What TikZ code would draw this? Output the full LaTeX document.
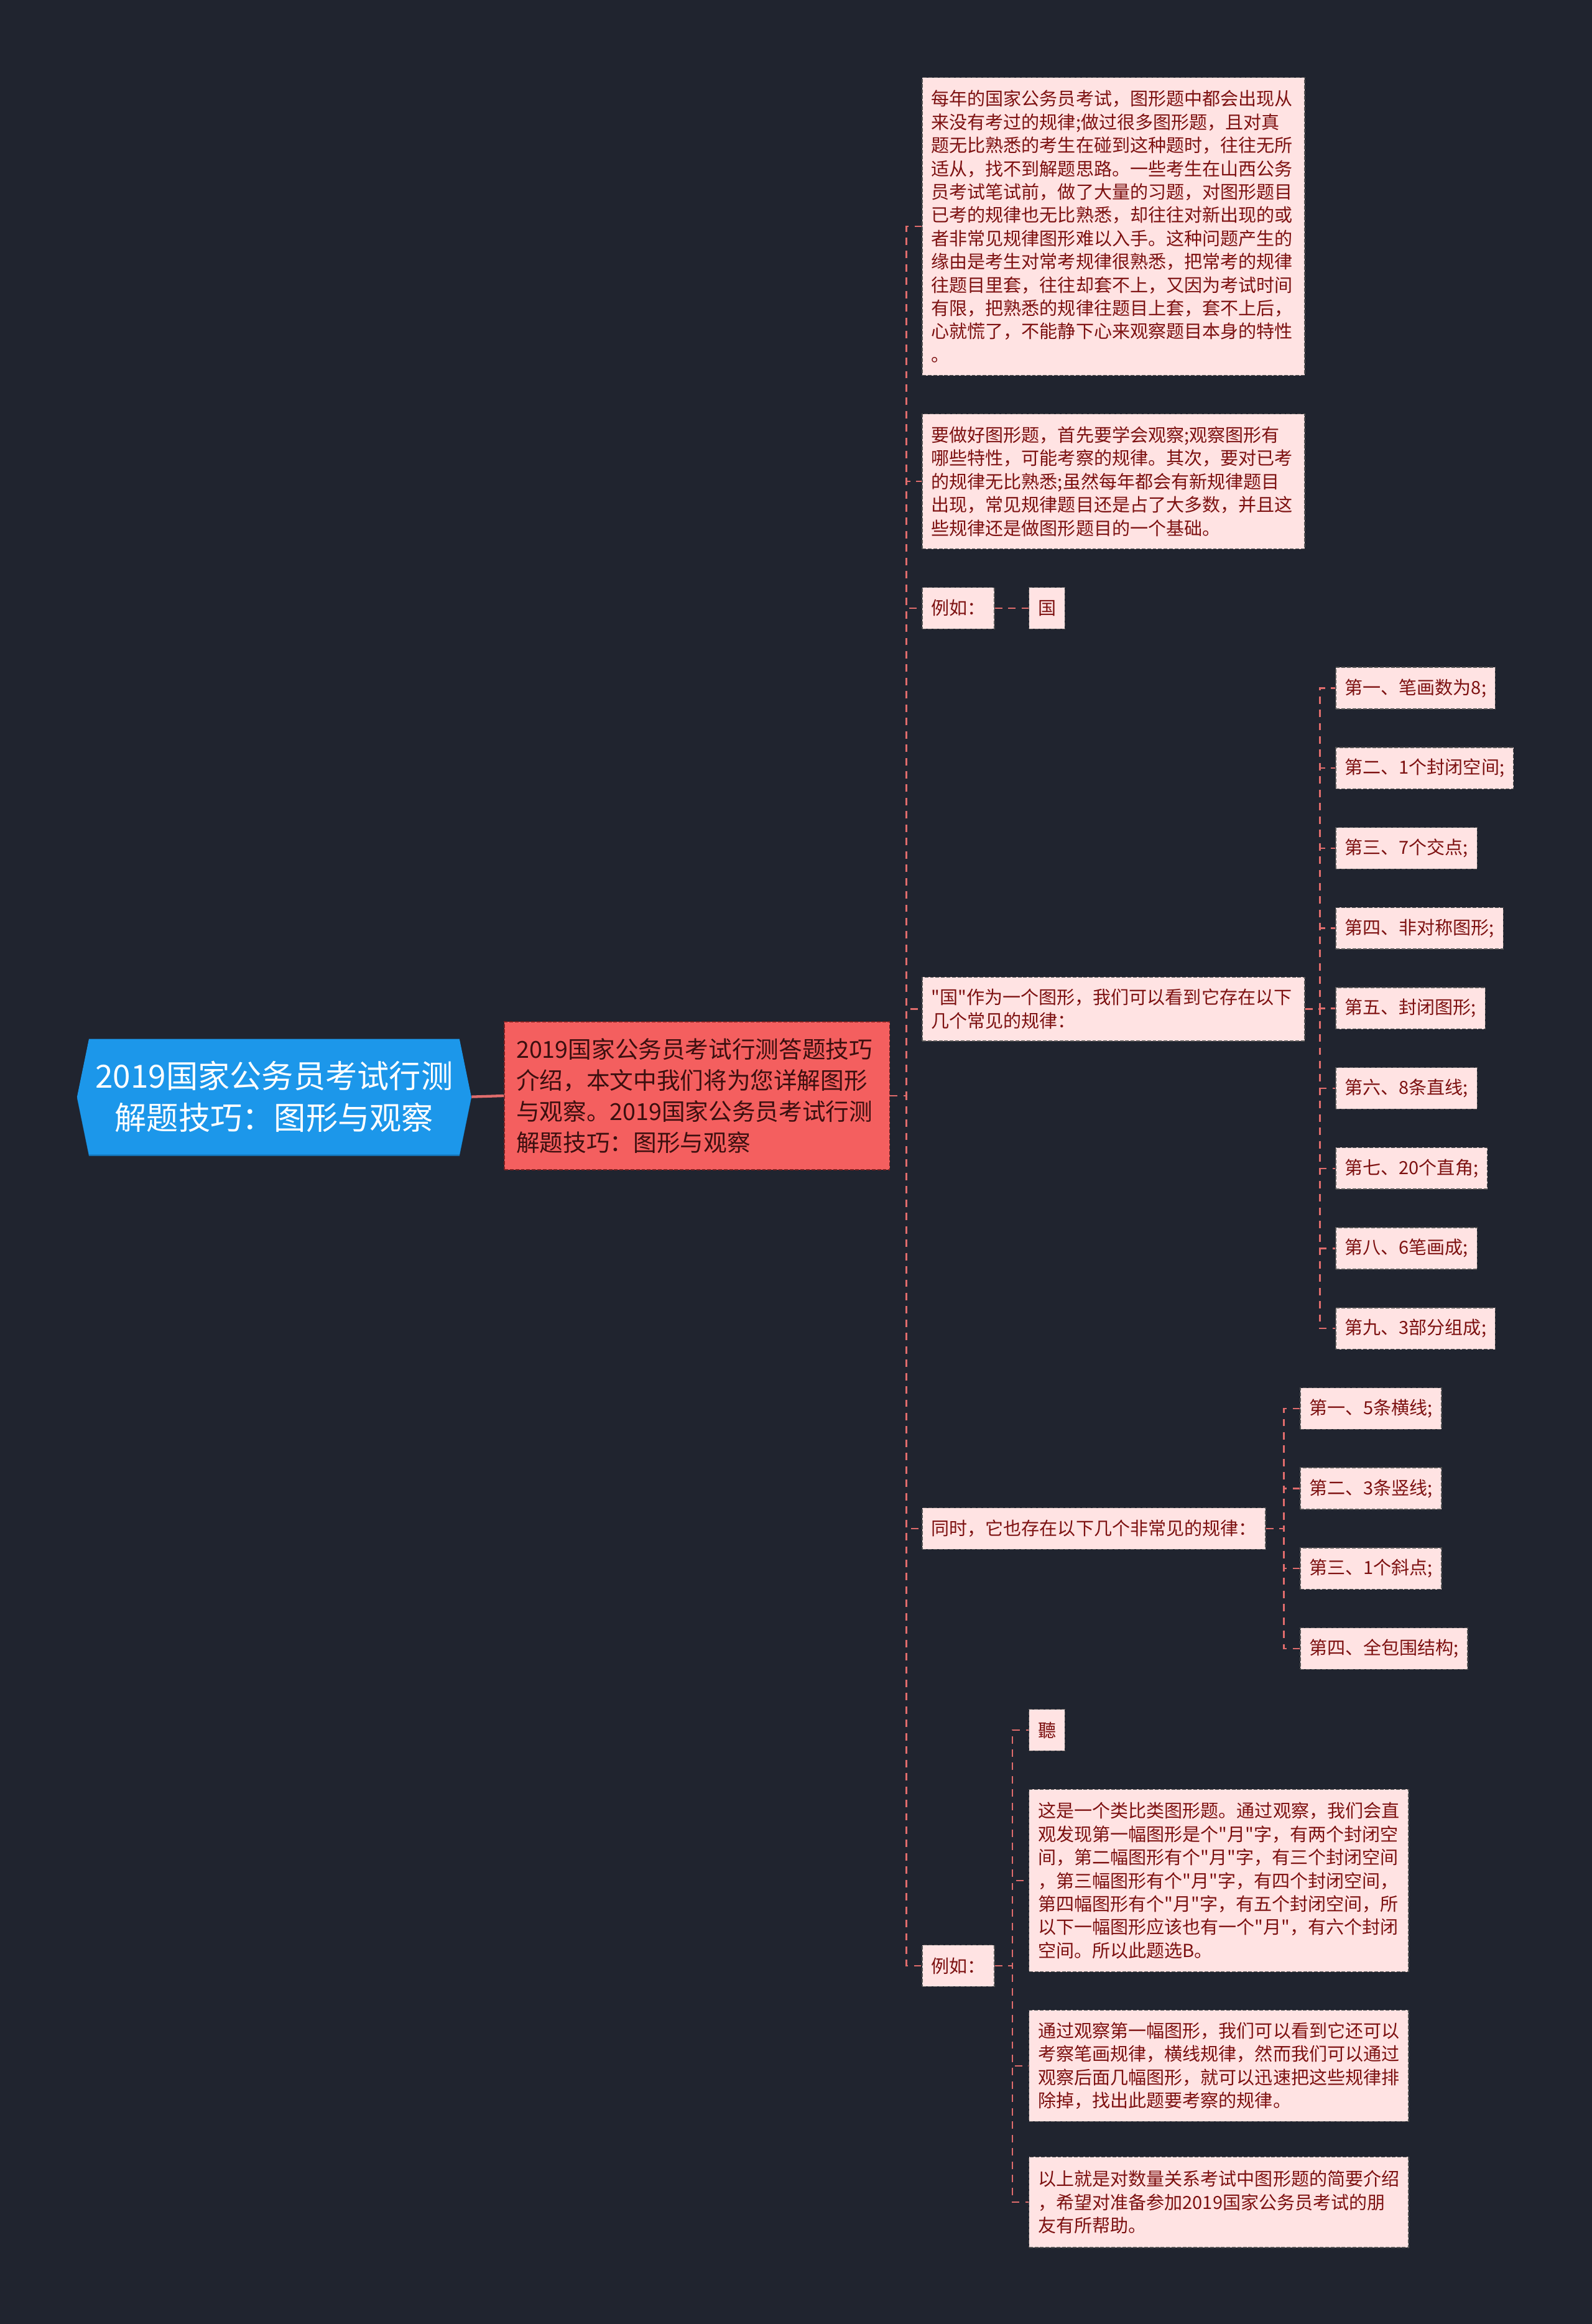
\documentclass[tikz,border=0pt]{standalone}
\usepackage{fontspec}
\setmainfont{Noto Sans CJK SC}[Ligatures=TeXOff]
\definecolor{bg}{HTML}{20242F}
\definecolor{rootfill}{HTML}{1C97EA}
\definecolor{rootedge}{HTML}{1570B0}
\definecolor{mainfill}{HTML}{F45F5F}
\definecolor{maintext}{HTML}{3C0F0F}
\definecolor{mainborder}{HTML}{7A2020}
\definecolor{leaffill}{HTML}{FFE3E3}
\definecolor{leaftext}{HTML}{7D1111}
\definecolor{leafborder}{HTML}{555555}
\definecolor{connc}{HTML}{E06C6C}
\begin{document}
\begin{tikzpicture}[x=1pt,y=-1pt,
  leaf/.style={draw=leafborder, dash pattern=on 2.5pt off 1.2pt, line width=0.6pt,
    fill=leaffill, text=leaftext, font=\fontsize{12.2}{15.7}\selectfont,
    align=left, anchor=north west, inner xsep=6pt, inner ysep=3pt, minimum height=28pt},
  mainnode/.style={draw=mainborder, dash pattern=on 2.5pt off 1.2pt, line width=0.6pt,
    fill=mainfill, text=maintext, font=\fontsize{15.8}{21}\selectfont,
    align=left, anchor=north west, inner xsep=8pt, inner ysep=3pt},
  rootnode/.style={text=white, font=\fontsize{21.5}{28}\selectfont, align=center,
    minimum width=266pt, minimum height=78pt, inner sep=0pt},
  conn/.style={draw=connc, line width=1pt, dash pattern=on 5pt off 4pt},
  rootconn/.style={draw=connc, line width=1.8pt}
]
\fill[bg] (0,0) rectangle (1074,1568);
\useasboundingbox (0,0) rectangle (1074,1568);

% root
\fill[rootedge] (60,702) -- (310,702) -- (318,741) -- (310,780) -- (60,780) -- (52,741) -- cycle;
\fill[rootfill] (60,701) -- (310,701) -- (318,740) -- (310,779) -- (60,779) -- (52,740) -- cycle;
\node[rootnode] (root) at (185,740) {2019国家公务员考试行测\\解题技巧：图形与观察};

% main
\node[mainnode, text width=244pt, minimum height=100pt] (main) at (340,689)
 {2019国家公务员考试行测答题技巧\\介绍，本文中我们将为您详解图形\\与观察。2019国家公务员考试行测\\解题技巧：图形与观察};

% level 2
\node[leaf, text width=246pt, minimum height=201pt] (A) at (622,52)
 {每年的国家公务员考试，图形题中都会出现从\\来没有考过的规律;做过很多图形题，且对真\\题无比熟悉的考生在碰到这种题时，往往无所\\适从，找不到解题思路。一些考生在山西公务\\员考试笔试前，做了大量的习题，对图形题目\\已考的规律也无比熟悉，却往往对新出现的或\\者非常见规律图形难以入手。这种问题产生的\\缘由是考生对常考规律很熟悉，把常考的规律\\往题目里套，往往却套不上，又因为考试时间\\有限，把熟悉的规律往题目上套，套不上后，\\心就慌了，不能静下心来观察题目本身的特性\\。};
\node[leaf, text width=246pt, minimum height=91pt] (B) at (622,279)
 {要做好图形题，首先要学会观察;观察图形有\\哪些特性，可能考察的规律。其次，要对已考\\的规律无比熟悉;虽然每年都会有新规律题目\\出现，常见规律题目还是占了大多数，并且这\\些规律还是做图形题目的一个基础。};
\node[leaf] (C) at (622,396) {例如：};
\node[leaf] (C1) at (694,396) {国};
\node[leaf, text width=246pt, minimum height=43pt] (D) at (622,659)
 {"国"作为一个图形，我们可以看到它存在以下\\几个常见的规律：};
\node[leaf] (E) at (622,1017) {同时，它也存在以下几个非常见的规律：};
\node[leaf] (F) at (622,1312) {例如：};

% D children
\node[leaf] (D1) at (901,450) {第一、笔画数为8;};
\node[leaf] (D2) at (901,504) {第二、1个封闭空间;};
\node[leaf] (D3) at (901,558) {第三、7个交点;};
\node[leaf] (D4) at (901,612) {第四、非对称图形;};
\node[leaf] (D5) at (901,666) {第五、封闭图形;};
\node[leaf] (D6) at (901,720) {第六、8条直线;};
\node[leaf] (D7) at (901,774) {第七、20个直角;};
\node[leaf] (D8) at (901,828) {第八、6笔画成;};
\node[leaf] (D9) at (901,882) {第九、3部分组成;};

% E children
\node[leaf] (E1) at (877,936) {第一、5条横线;};
\node[leaf] (E2) at (877,990) {第二、3条竖线;};
\node[leaf] (E3) at (877,1044) {第三、1个斜点;};
\node[leaf] (E4) at (877,1098) {第四、全包围结构;};

% F children
\node[leaf] (F1) at (694,1153) {聽};
\node[leaf, text width=244pt, minimum height=123pt] (F2) at (694,1207)
 {这是一个类比类图形题。通过观察，我们会直\\观发现第一幅图形是个"月"字，有两个封闭空\\间，第二幅图形有个"月"字，有三个封闭空间\\，第三幅图形有个"月"字，有四个封闭空间，\\第四幅图形有个"月"字，有五个封闭空间，所\\以下一幅图形应该也有一个"月"，有六个封闭\\空间。所以此题选B。};
\node[leaf, text width=244pt, minimum height=75pt] (F3) at (694,1356)
 {通过观察第一幅图形，我们可以看到它还可以\\考察笔画规律，横线规律，然而我们可以通过\\观察后面几幅图形，就可以迅速把这些规律排\\除掉，找出此题要考察的规律。};
\node[leaf, text width=244pt, minimum height=61pt] (F4) at (694,1455)
 {以上就是对数量关系考试中图形题的简要介绍\\，希望对准备参加2019国家公务员考试的朋\\友有所帮助。};

% connectors
\draw[rootconn] (root.east) -- (main.west);
\foreach \n in {A,B,C,D,E,F}
  \draw[conn] (main.east) -- ++(11,0) |- (\n.west);
\draw[conn] (C.east) -- (C1.west);
\foreach \n in {D1,D2,D3,D4,D5,D6,D7,D8,D9}
  \draw[conn] (D.east) -- ++(10,0) |- (\n.west);
\foreach \n in {E1,E2,E3,E4}
  \draw[conn] (E.east) -- ++(12,0) |- (\n.west);
\foreach \n in {F1,F2,F3,F4}
  \draw[conn] (F.east) -- ++(12,0) |- (\n.west);
\end{tikzpicture}
\end{document}
